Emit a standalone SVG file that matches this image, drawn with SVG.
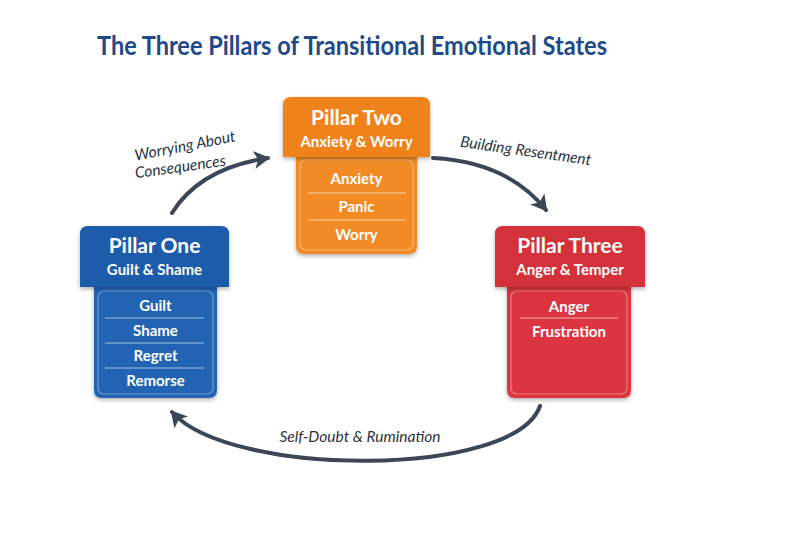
<svg xmlns="http://www.w3.org/2000/svg" width="800" height="533" viewBox="0 0 800 533">
<defs>
<filter id="sh" x="-20%" y="-20%" width="140%" height="150%">
<feDropShadow dx="0" dy="2" stdDeviation="2" flood-color="#000" flood-opacity="0.3"/>
</filter>
<marker id="ah" markerUnits="userSpaceOnUse" markerWidth="20" markerHeight="18" refX="14" refY="9" orient="auto">
<path d="M0,0 L16,9 L0,18 L4,9 Z" fill="#3b4656"/>
</marker>
<style>
.title{font-family:Lato,"Liberation Sans",sans-serif;font-weight:bold;font-size:26px;fill:#1e4a8a}
.h1{font-family:Lato,"Liberation Sans",sans-serif;font-weight:bold;font-size:21px;fill:#fff;text-anchor:middle}
.h2{font-family:Lato,"Liberation Sans",sans-serif;font-weight:bold;font-size:15px;fill:#fff;text-anchor:middle}
.it{font-family:Lato,"Liberation Sans",sans-serif;font-weight:bold;font-size:15px;fill:#fff;text-anchor:middle}
.sep{stroke:#fff;stroke-opacity:0.6;stroke-width:1}
.inner{fill:none;stroke:#fff;stroke-opacity:0.35;stroke-width:1.2}
.lbl{font-family:Lato,"Open Sans",sans-serif;font-style:italic;font-size:15.5px;fill:#2a3342}
.conn{fill:none;stroke:#3b4656;stroke-width:4;stroke-linecap:round}
</style>
</defs>
<rect width="800" height="533" fill="#fff"/>
<text class="title" x="97" y="55" textLength="510" lengthAdjust="spacingAndGlyphs">The Three Pillars of Transitional Emotional States</text>

<g id="connectors">
<path class="conn" d="M172,213 Q200,168 268,158" marker-end="url(#ah)"/>
<path class="conn" d="M433,158 Q508,162 546,210" marker-end="url(#ah)"/>
<path class="conn" d="M540,406 C515,478 230,478 172,412" marker-end="url(#ah)"/>
<text class="lbl" transform="translate(186,151) rotate(-11)" text-anchor="middle">Worrying About</text>
<text class="lbl" transform="translate(181,172) rotate(-8)" text-anchor="middle">Consequences</text>
<text class="lbl" transform="translate(525,156) rotate(8)" text-anchor="middle" font-size="14">Building Resentment</text>
<text class="lbl" x="360" y="442" text-anchor="middle" font-size="17">Self-Doubt &amp; Rumination</text>
</g>

<g id="pillar-two">
<path d="M296,152 H417 V246 Q417,254 409,254 H304 Q296,254 296,246 Z" fill="#f28b27" filter="url(#sh)"/>
<rect class="inner" x="300" y="160" width="113" height="90" rx="6"/>
<path d="M283,105 Q283,97 291,97 H422 Q430,97 430,105 V157 H283 Z" fill="#f0821a" filter="url(#sh)"/>
<text class="h1" x="356.5" y="125">Pillar Two</text>
<text class="h2" x="356.5" y="147">Anxiety &amp; Worry</text>
<text class="it" x="356.5" y="184">Anxiety</text>
<line class="sep" x1="308" y1="193" x2="406" y2="193"/>
<text class="it" x="356.5" y="212">Panic</text>
<line class="sep" x1="308" y1="220" x2="406" y2="220"/>
<text class="it" x="356.5" y="240">Worry</text>
</g>

<g id="pillar-one">
<path d="M94,282 H217 V390 Q217,398 209,398 H102 Q94,398 94,390 Z" fill="#2263b3" filter="url(#sh)"/>
<rect class="inner" x="98" y="291" width="115" height="103" rx="6"/>
<path d="M80,234 Q80,226 88,226 H221 Q229,226 229,234 V287 H80 Z" fill="#1d5bab" filter="url(#sh)"/>
<text class="h1" x="154.5" y="253">Pillar One</text>
<text class="h2" x="154.5" y="275">Guilt &amp; Shame</text>
<text class="it" x="155.5" y="311">Guilt</text>
<line class="sep" x1="105" y1="318" x2="204" y2="318"/>
<text class="it" x="155.5" y="336">Shame</text>
<line class="sep" x1="105" y1="343" x2="204" y2="343"/>
<text class="it" x="155.5" y="361">Regret</text>
<line class="sep" x1="105" y1="368" x2="204" y2="368"/>
<text class="it" x="155.5" y="386">Remorse</text>
</g>

<g id="pillar-three">
<path d="M507,282 H631 V390 Q631,398 623,398 H515 Q507,398 507,390 Z" fill="#dc3640" filter="url(#sh)"/>
<rect class="inner" x="511" y="291" width="116" height="103" rx="6"/>
<path d="M495,234 Q495,226 503,226 H637 Q645,226 645,234 V287 H495 Z" fill="#d3303a" filter="url(#sh)"/>
<text class="h1" x="570" y="253">Pillar Three</text>
<text class="h2" x="570" y="275">Anger &amp; Temper</text>
<text class="it" x="569" y="312">Anger</text>
<line class="sep" x1="520" y1="318" x2="618" y2="318"/>
<text class="it" x="569" y="337">Frustration</text>
</g>
</svg>
